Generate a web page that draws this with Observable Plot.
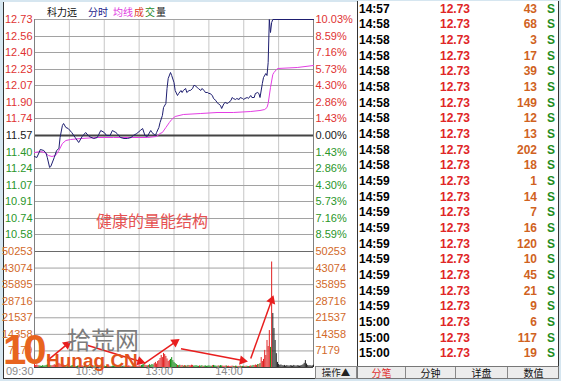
<!DOCTYPE html>
<html><head><meta charset="utf-8">
<script src="https://cdn.jsdelivr.net/npm/d3@7"></script>
<script src="https://cdn.jsdelivr.net/npm/@observablehq/plot@0.6"></script>
<style>
html,body{margin:0;padding:0}
body{width:561px;height:381px;background:#d6e6f0;position:relative;overflow:hidden;font-family:"Liberation Sans",Arial,sans-serif}
#panel{position:absolute;left:3px;top:2px;width:354px;height:377px;background:#fff;border-left:1px solid #333;border-bottom:1px solid #333;box-sizing:border-box}
.layer{position:absolute;left:0;top:0}
#header{position:absolute;top:5px;left:0;font-family:"Noto Sans CJK SC",sans-serif;font-size:10px;line-height:14px;white-space:nowrap}
#header span{position:absolute;top:0}
#note{position:absolute;left:96px;top:210px;font-family:"Noto Sans CJK SC",sans-serif;font-size:16px;line-height:20px;color:#e65252;white-space:nowrap}
#wm10{position:absolute;left:3px;top:326px;font-size:42px;font-weight:bold;color:#e8641e;line-height:48px;letter-spacing:-3px}
#wmcn{position:absolute;left:67px;top:324px;font-family:"Noto Sans CJK SC",sans-serif;font-size:24px;line-height:30px;color:#7c7c7c}
#wmen{position:absolute;left:46px;top:350px;font-size:19px;font-weight:bold;color:#e2521c;line-height:22px}
#optab{position:absolute;left:315px;top:366px;width:42px;height:13px;background:#ececec;border:1px solid #888;box-sizing:border-box;font-family:"Noto Sans CJK SC",sans-serif;font-size:9.5px;line-height:11px;text-align:center;color:#222;overflow:hidden}
#list{position:absolute;left:357px;top:1px;width:202px;height:366px;background:#fff;border-left:1px solid #333;border-right:1px solid #333;box-sizing:border-box;font-weight:bold;font-size:12px}
.row{position:absolute;left:0;width:200px;height:15.67px;line-height:15.67px}
.row span{position:absolute;top:0}
#tabs{position:absolute;left:357px;top:366px;width:202px;height:13px;background:#ececec;border:1px solid #777;box-sizing:border-box;font-family:"Noto Sans CJK SC",sans-serif;font-size:10px;line-height:11px;overflow:hidden}
#tabs div{position:absolute;top:0;height:11px;text-align:center;border-right:1px solid #888;box-sizing:border-box}
</style></head>
<body>
<div id="panel"></div>
<div id="price" class="layer"></div>
<div id="vol" class="layer"></div>
<div id="header"></div>
<div id="note"></div>
<div id="wm10"></div><div id="wmcn"></div><div id="wmen"></div>
<div id="optab"></div>
<div id="list"></div>
<div id="tabs"></div>
<script>
// ---------- data ----------
const stockName = "科力远";
const prevClose = 11.57;
const limitUp = 12.73;
const limitDown = 10.41;
const volMax = 50253;

const priceLabels = ["12.73","12.56","12.40","12.23","12.07","11.90","11.74","11.57","11.40","11.24","11.07","10.91","10.74","10.58"];
const pctLabels = ["10.03%","8.59%","7.16%","5.73%","4.30%","2.86%","1.43%","0.00%","1.43%","2.86%","4.30%","5.73%","7.16%","8.59%"];
const volLabels = ["50253","43074","35895","28716","21537","14358","7179"];
const timeLabels = ["09:30","10:30","13:00","14:00"];
const timeLabelMinutes = [0, 60, 120, 180];
const gridMinutes = [30, 60, 90, 120, 150, 180, 210];

const priceMinutes = [0,2,4,5,8,10,11,13,14,17,19,21,22,24,25,27,29,32,35,38,41,44,47,51,54,57,60,62,65,67,70,71,74,77,80,83,85,88,91,93,95,97,100,101,104,105,107,108,110,111,113,114,115,117,118,120,121,123,124,126,127,128,130,131,133,134,136,137,138,140,141,143,144,146,147,149,150,151,153,154,156,157,158,160,161,163,164,166,167,169,170,171,173,174,176,177,179,180,181,183,184,186,187,189,190,192,193,194,196,197,199,200,201,202,203,204,205,240];
const priceValues = [11.36,11.35,11.40,11.43,11.42,11.39,11.35,11.25,11.26,11.35,11.42,11.44,11.55,11.67,11.69,11.65,11.64,11.60,11.55,11.50,11.56,11.60,11.56,11.54,11.55,11.62,11.60,11.57,11.57,11.62,11.60,11.59,11.55,11.54,11.54,11.55,11.57,11.59,11.62,11.64,11.57,11.56,11.62,11.60,11.57,11.60,11.65,11.70,11.77,11.85,11.89,12.04,12.14,12.20,12.17,12.10,12.02,11.97,11.99,12.02,12.00,12.02,12.04,12.00,12.02,12.02,12.04,12.07,12.07,12.05,12.04,12.02,12.04,12.02,12.00,12.00,11.99,11.99,11.97,11.94,11.92,11.90,11.89,11.87,11.84,11.89,11.90,11.89,11.90,11.92,11.95,11.94,11.93,11.94,11.93,11.95,11.94,11.93,11.94,11.95,11.94,11.97,11.95,11.95,11.99,12.00,11.99,11.95,12.09,12.15,12.19,12.17,12.30,12.73,12.60,12.70,12.73,12.73];

const avgMinutes = [0,5,9,12,15,18,21,24,27,31,40,54,68,83,97,105,108,110,113,116,118,121,128,143,157,171,186,194,198,200,201,203,205,206,209,226,240];
const avgValues = [11.40,11.41,11.40,11.37,11.36,11.37,11.42,11.49,11.52,11.53,11.54,11.55,11.55,11.55,11.55,11.56,11.59,11.60,11.65,11.70,11.73,11.76,11.78,11.79,11.80,11.80,11.81,11.82,11.83,11.85,11.89,12.05,12.18,12.20,12.24,12.25,12.27];

const minuteVolumes = [
 2200,900,1100,800,700,600,500,800,600,700,
 900,1100,1300,1000,800,700,900,1200,1000,800,
 1500,1800,1400,1200,900,700,800,600,500,700,
 600,500,700,800,600,500,400,600,700,500,
 600,700,500,400,600,500,700,400,500,600,
 400,500,700,600,500,400,600,500,400,500,
 600,400,500,700,600,500,400,600,500,400,
 500,600,400,500,600,400,500,600,500,400,
 500,700,600,500,400,600,700,800,600,500,
 700,600,900,1100,1300,1000,800,700,900,1200,
 900,1300,1100,1700,2200,1500,2600,3000,3900,5200,
 4300,6100,5600,4800,3700,2600,3100,3500,4300,3000,
 2200,1700,1300,900,800,1000,700,900,600,800,
 700,600,900,800,700,1000,900,600,700,800,
 600,500,700,600,800,500,600,700,500,600,
 700,600,500,800,900,700,600,500,700,600,
 800,700,600,500,600,700,500,600,400,500,
 600,500,400,600,500,400,500,600,400,500,
 500,400,600,500,400,500,700,600,900,800,
 1100,900,1300,1300,1700,4300,2600,3500,7400,5200,
 11700,9100,16000,8700,45700,23400,16900,11700,6000,2200,
 1300,900,1100,800,700,900,600,800,700,600,
 800,700,600,900,700,600,800,700,600,700,
 900,1200,1800,3000,1500,900,700,800,600,700,
 1000];
const minuteDirections = [
 "uuuudddddd","ddddduuuuu","uuuuuddddd","dddddddduu","uuuddddddu",
 "udduuuuudd","ddduuudddd","ddddddfduu","duuudfuuuu","uuddduudud",
 "ddduuuuuuu","uuuuuuuddd","dddudduudu","duduuuuddd","dduddudddd",
 "ddduddddud","dduuuduuuu","ududduudud","duudduuddu","uududuuuuu",
 "uuudufffff","ffffffffff","ffffffffff","ffffffffff","f"].join("");

// annotation arrows in (minute, volume) units
const arrowStartMin = [11, 46, 94, 126, 186];
const arrowStartVol = [3000, 9500, 1600, 8100, 3900];
const arrowEndMin = [28, 91, 121, 179, 204];
const arrowEndVol = [10000, 2600, 11000, 3000, 29100];

const noteText = "健康的量能结构";
const headerChars = ["科","力","远","分","时","均","线","成","交","量"];
const headerColors = ["#111","#111","#111","#1c1c8c","#1c1c8c","#e03ce0","#e03ce0","#e0402a","#2a8a2a","#222"];

const tickTimes = ["14:57","14:58","14:58","14:58","14:58","14:58","14:58","14:58","14:58","14:58","14:58","14:59","14:59","14:59","14:59","14:59","14:59","14:59","14:59","14:59","15:00","15:00","15:00"];
const tickPrice = "12.73";
const tickVols = [43,68,3,17,39,13,149,12,13,202,18,1,14,7,16,120,10,45,21,9,6,117,19];
const tickSide = "S";
const tabNames = ["分笔","分钟","详盘","数值"];

// ---------- styles ----------
const RED = "#e03232", GREEN = "#2a962a", DARK = "#202020", ORANGE = "#d2692a";
const NAVY = "#1e1e70", MAGENTA = "#e43ee4", ARROW = "#e81e1e";
const lblColor = v => v > prevClose ? RED : v < prevClose ? GREEN : DARK;
const dirColor = {u: "#e02222", d: "#18901a", f: "#222222"};

const priceRows = priceLabels.map((t, i) => ({v: +t, label: t, pct: pctLabels[i]}));
const priceSeries = priceMinutes.map((m, i) => ({m, p: priceValues[i]}));
const avgSeries = avgMinutes.map((m, i) => ({m, p: avgValues[i]}));
const volRows = volLabels.map(t => ({v: +t, label: t}));
const volBars = minuteVolumes.map((v, m) => ({m, v, dir: minuteDirections[m]}));
const timeRows = timeLabels.map((t, i) => ({t, m: timeLabelMinutes[i]}));
const arrows = arrowStartMin.map((_, i) => ({x1: arrowStartMin[i], y1: arrowStartVol[i], x2: arrowEndMin[i], y2: arrowEndVol[i]}));

const common = {
  width: 357, height: 381, marginLeft: 34, marginRight: 44,
  x: {domain: [0, 240], axis: null},
  color: {type: "identity"},
  style: {background: "transparent", fontFamily: '"Liberation Sans", Arial, sans-serif', fontSize: "11px", overflow: "visible"}
};

const pricePlot = Plot.plot({
  ...common, marginTop: 19, marginBottom: 130,
  y: {domain: [limitDown, limitUp], axis: null},
  marks: [
    Plot.ruleX(gridMinutes, {stroke: "#c6c6c6"}),
    Plot.ruleY(priceRows.filter(d => d.v !== prevClose), {y: "v", stroke: "#a2a2a2"}),
    Plot.ruleY([prevClose], {stroke: "#444", strokeWidth: 2}),
    Plot.ruleX([0, 240], {stroke: "#808080"}),
    Plot.line(avgSeries, {x: "m", y: "p", stroke: MAGENTA, strokeWidth: 1}),
    Plot.line(priceSeries, {x: "m", y: "p", stroke: NAVY, strokeWidth: 1}),
    Plot.text(priceRows, {y: "v", text: "label", frameAnchor: "left", textAnchor: "end", dx: -2, fill: d => lblColor(d.v), fontSize: 11}),
    Plot.text(priceRows, {y: "v", text: "pct", frameAnchor: "right", textAnchor: "start", dx: 2, fill: d => lblColor(d.v), fontSize: 11})
  ]
});
document.getElementById("price").appendChild(pricePlot);

const volOptions = {...common, marginTop: 251, marginBottom: 14, y: {domain: [0, volMax], axis: null}};
const baseVolMarks = [
  Plot.ruleX(gridMinutes, {stroke: "#c6c6c6"}),
  Plot.ruleY(volRows.slice(1), {y: "v", stroke: "#a2a2a2"}),
  Plot.ruleY([volMax], {stroke: "#6a6a6a"}),
  Plot.ruleY([0], {stroke: "#444"}),
  Plot.ruleX([0, 240], {stroke: "#808080"}),
  Plot.ruleX(volBars, {x: "m", y1: 0, y2: "v", stroke: d => dirColor[d.dir], strokeWidth: 1}),
  Plot.link(arrows, {x1: "x1", y1: "y1", x2: "x2", y2: "y2", stroke: ARROW, strokeWidth: 1.5}),
  Plot.text(volRows, {y: "v", text: "label", frameAnchor: "left", textAnchor: "end", dx: -2, fill: ORANGE, fontSize: 11}),
  Plot.text(volRows, {y: "v", text: "label", frameAnchor: "right", textAnchor: "start", dx: 2, fill: ORANGE, fontSize: 11}),
  Plot.text(timeRows, {x: "m", text: "t", frameAnchor: "bottom", textAnchor: "end", dx: -1, dy: 7, fill: "#8a8a8a", fontSize: 11})
];
// first pass to read the library's scales, to orient the filled arrowheads
const draft = Plot.plot({...volOptions, marks: baseVolMarks});
const sx = draft.scale("x"), sy = draft.scale("y");
const heads = arrows.map(a => {
  const dx = sx.apply(a.x2) - sx.apply(a.x1), dy = sy.apply(a.y2) - sy.apply(a.y1);
  return {...a, angle: Math.atan2(dx, -dy) * 180 / Math.PI};
});
const volPlot = Plot.plot({
  ...volOptions,
  marks: [...baseVolMarks,
    Plot.dot(heads, {x: "x2", y: "y2", symbol: "triangle2", r: 4.5, fill: ARROW, stroke: "none", rotate: "angle"})]
});
document.getElementById("vol").appendChild(volPlot);

// header
const header = document.getElementById("header");
const headerX = [47, 57, 67, 88, 98, 113, 123, 134, 145, 156];
headerChars.forEach((t, i) => {
  const s = document.createElement("span");
  s.textContent = t; s.style.color = headerColors[i]; s.style.left = headerX[i] + "px";
  header.appendChild(s);
});
document.getElementById("note").textContent = noteText;
document.getElementById("wm10").textContent = "10";
document.getElementById("wmcn").textContent = "拾荒网";
document.getElementById("wmen").textContent = "Hunag.CN";
document.getElementById("optab").textContent = "操作▲";

// tick list
const list = document.getElementById("list");
tickTimes.forEach((t, i) => {
  const r = document.createElement("div");
  r.className = "row";
  r.style.top = (0.5 + i * 15.67) + "px";
  r.innerHTML = `<span style="left:1px;color:#000">${t}</span>` +
    `<span style="left:82px;color:#e02626">${tickPrice}</span>` +
    `<span style="right:21px;text-align:right;color:#d0621e">${tickVols[i]}</span>` +
    `<span style="left:189px;color:#1e8c1e">${tickSide}</span>`;
  list.appendChild(r);
});
const tabs = document.getElementById("tabs");
const tabLeft = [0, 48, 98, 150], tabW = [48, 50, 52, 51];
tabNames.forEach((t, i) => {
  const d = document.createElement("div");
  d.textContent = t;
  d.style.left = tabLeft[i] + "px"; d.style.width = tabW[i] + "px";
  d.style.color = i === 0 ? "#e03030" : "#111";
  if (i === 3) d.style.borderRight = "none";
  tabs.appendChild(d);
});
</script>
</body></html>
